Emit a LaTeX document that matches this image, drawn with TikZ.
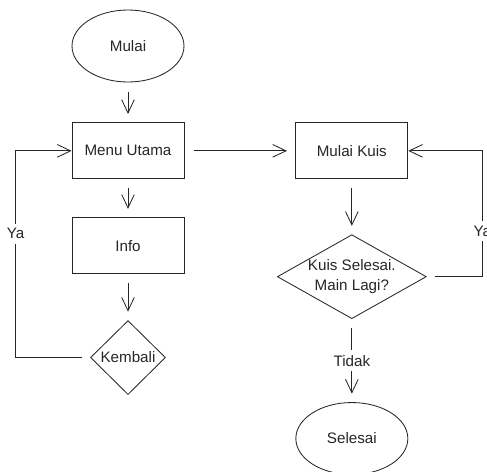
\documentclass[tikz,border=0pt]{standalone}
\usepackage{fontspec}
\setmainfont{Liberation Sans}
\usetikzlibrary{arrows.meta, positioning, shapes.geometric}

\begin{document}
\begin{tikzpicture}[
    font=\fontsize{10.8pt}{14pt}\selectfont,
    color=black!85, line width=0.6pt,
    box/.style={draw, rectangle, minimum width=2.8cm, minimum height=1.4cm},
    terminal/.style={draw, ellipse, minimum width=2.8cm, minimum height=1.8cm},
    decision/.style={draw, diamond, inner sep=0pt, align=center},
    flow/.style={-{Straight Barb[length=9.5pt, width=9pt]}, shorten >=6pt, shorten <=6.5pt},
    back/.style={-{Straight Barb[length=9.5pt, width=9pt]}, shorten <=5.5pt},
    lbl/.style={fill=white}
]
    \useasboundingbox (0,0) rectangle (12.175,-11.8);

    \node[terminal] (mulai) at (3.2,-1.15) {Mulai};
    \node[box, below=1cm of mulai] (menu) {Menu Utama};
    \node[box, below=0.95cm of menu] (info) {Info};
    \node[decision, minimum width=1.875cm, minimum height=1.85cm, below=1.15cm of info] (kembali) {Kembali};
    \node[box, right=2.775cm of menu] (kuis) {Mulai Kuis};
    \node[decision, aspect=1.77, minimum width=3.725cm, minimum height=2.1cm, below=1.375cm of kuis] (cek) {Kuis Selesai.\\Main Lagi?};
    \node[terminal, below=2.075cm of cek] (selesai) {Selesai};

    \coordinate[left=1.4cm of menu.west] (kiri);
    \coordinate[right=1.85cm of kuis.east] (kanan);

    \draw[flow] (mulai) -- (menu);
    \draw[flow] (menu) -- (info);
    \draw[flow] (info) -- (kembali);
    \draw[flow] (menu) -- (kuis);
    \draw[flow] (kuis) -- (cek);
    \draw[flow] (cek) -- node[lbl] {Tidak} (selesai);
    \draw[back] (kembali.west) -| node[lbl, pos=0.8] {Ya} (kiri) -- (menu.west);
    \draw[back] (cek.east) -| node[lbl, pos=0.68] {Ya} (kanan) -- (kuis.east);
\end{tikzpicture}
\end{document}
